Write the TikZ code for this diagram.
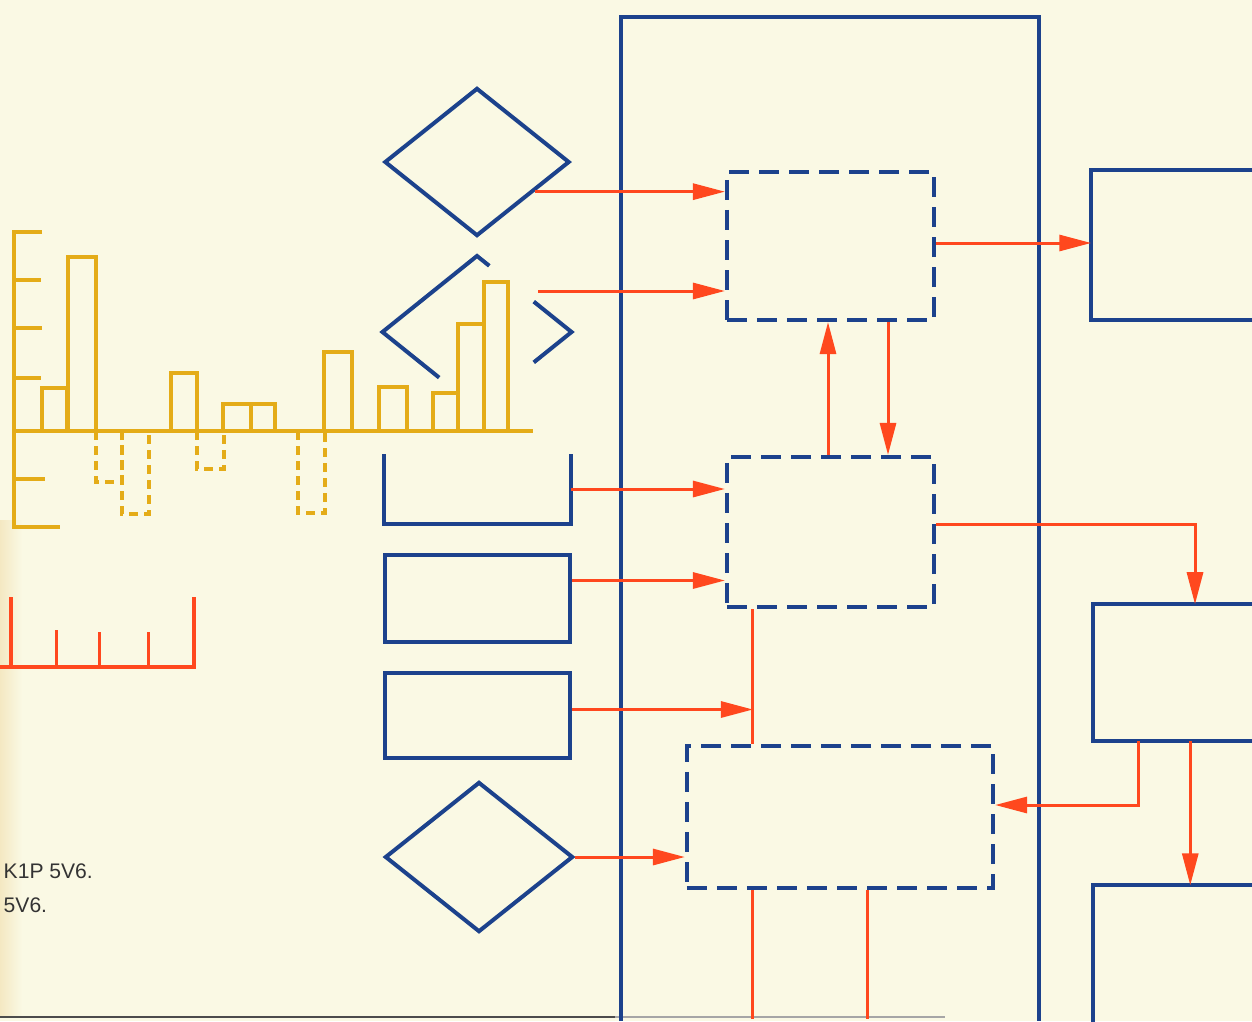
\documentclass[tikz,border=0pt]{standalone}
\usepackage{fontspec}
\setmainfont{Liberation Sans}
\usetikzlibrary{shapes.geometric, arrows.meta, calc}
\definecolor{paper}{RGB}{250,249,228}
\definecolor{fold}{RGB}{244,232,194}
\definecolor{navy}{RGB}{28,66,140}
\definecolor{signal}{RGB}{255,72,30}
\definecolor{chart}{RGB}{228,172,24}

\begin{document}
\begin{tikzpicture}[x=0.01cm, y=-0.01cm,
  blk/.style={rectangle, draw=navy, line width=0.04cm, inner sep=0pt},
  ghost/.style={rectangle, draw=none, inner sep=0pt},
  dia/.style={diamond, draw=navy, line width=0.04cm, inner sep=0pt, minimum width=1.85cm, minimum height=1.48cm},
  dbox/.style={rectangle, draw=navy, line width=0.04cm, dash pattern=on 0.2cm off 0.1cm, inner sep=0pt},
  rim/.style={navy, line width=0.04cm},
  flow/.style={-{Triangle[length=0.32cm, width=0.16cm]}, signal, line width=0.03cm},
  wire/.style={signal, line width=0.03cm},
  bar/.style={chart, line width=0.035cm},
  negbar/.style={chart, line width=0.035cm, dash pattern=on 0.09cm off 0.06cm},
  post/.style={anchor=base west, inner sep=0pt, text=black!80, font=\fontsize{6}{7}\selectfont}
]
  \fill[paper] (0,0) rectangle (1252,1021);
  \useasboundingbox (0,0) rectangle (1252,1021);
  \fill[left color=fold, right color=paper] (0,520) rectangle (22,1017);
  \draw[black!70, line width=0.02cm] (0,1017) -- (615,1017);
  \draw[black!35, line width=0.02cm] (615,1017) -- (945,1017);

  \draw[rim] (621,1021) |- (1039,17) -- (1039,1021);

  \node[dia] (dTop) at (477,162) {};
  \node[dia, draw=none] (dMid) at (477,332) {};
  \node[ghost, minimum width=1.85cm, minimum height=0.68cm] (uBox) at (477.5,489) {};
  \node[blk, minimum width=1.85cm, minimum height=0.87cm] (rUp) at (477.5,598.5) {};
  \node[blk, minimum width=1.85cm, minimum height=0.85cm] (rLow) at (477.5,715.5) {};
  \node[dia, minimum width=1.88cm, minimum height=1.50cm] (dBot) at (479,857) {};

  \node[dbox, minimum width=2.07cm, minimum height=1.48cm] (pA) at (830.5,246) {};
  \node[dbox, minimum width=2.07cm, minimum height=1.50cm] (pB) at (830.5,532) {};
  \node[dbox, minimum width=3.06cm, minimum height=1.42cm] (pC) at (840,817) {};

  \node[ghost, minimum width=1.60cm, minimum height=1.48cm] (oA) at (1172,245) {};
  \node[ghost, minimum width=1.58cm, minimum height=1.35cm] (oB) at (1173,672.5) {};
  \node[ghost, minimum width=1.58cm, minimum height=1.35cm] (oC) at (1173,953.5) {};

  \draw[rim] ($(dMid.west)!0.6!(dMid.south)$) -- (dMid.west) -- (dMid.north) -- ($(dMid.north)!0.13!(dMid.east)$);
  \draw[rim] ($(dMid.east)!0.4!(dMid.north)$) -- (dMid.east) -- ($(dMid.east)!0.4!(dMid.south)$);
  \draw[rim] (uBox.north west) -- (uBox.south west) -- (uBox.south east) -- (uBox.north east);
  \draw[rim] (oA.north east) -- (oA.north west) -- (oA.south west) -- (oA.south east);
  \draw[rim] (oB.north east) -- (oB.north west) -- (oB.south west) -- (oB.south east);
  \draw[rim] (oC.south west) -- (oC.north west) -- (oC.north east);

  \coordinate (a1) at ($(dTop.east)!0.39!(dTop.south)$);
  \coordinate (a2) at (538,291);
  \coordinate (a3) at ($(pA.east)+(0,-3)$);
  \coordinate (a4) at ($(rUp.east)+(0,-18)$);
  \coordinate (a5) at ($(rLow.east)+(0,-6)$);
  \coordinate (jn) at ($(pB.south west)+(28,0)$);

  \draw[flow] (a1) -- (a1 -| pA.west);
  \draw[flow] (a2) -- (a2 -| pA.west);
  \draw[flow] (a3) -- (a3 -| oA.west);
  \draw[flow] ($(pB.north)+(-2.5,0)$) -- ($(pA.south)+(-2.5,0)$);
  \draw[flow] ($(pA.south)+(57.5,0)$) -- ($(pB.north)+(57.5,0)$);
  \draw[flow] (uBox.east) -- (uBox.east -| pB.west);
  \draw[flow] (a4) -- (a4 -| pB.west);
  \draw[wire] (jn) -- (jn |- pC.north);
  \draw[flow] (a5) -- (a5 -| jn);
  \draw[flow] ($(pB.east)+(0,-8)$) -| ($(oB.north)+(22,0)$);
  \draw[flow] ($(oB.south west)+(45,0)$) |- ($(pC.east)+(0,-12)$);
  \draw[flow] ($(oB.south west)+(97,0)$) -- ($(oC.north west)+(97,0)$);
  \draw[flow] (dBot.east) -- (dBot.east -| pC.west);
  \draw[wire] ($(pC.south west)+(68,0)$) -- ++(0,129);
  \draw[wire] ($(pC.south west)+(183,0)$) -- ++(0,129);

  \draw[bar] (42,232) -| (14,527) -- (60,527);
  \foreach \ty/\tx in {280/41, 328/42, 378/41, 479/45}
    \draw[bar] (14,\ty) -- (\tx,\ty);
  \foreach \xa/\xb/\yt in {42/67/388, 68/96/257, 171/197/373, 223/251/404, 251/275/404, 324/352/352, 379/407/387, 433/458/393, 458/484/324, 484/508/282}
    \draw[bar] (\xa,431) |- (\xb,\yt) -- (\xb,431);
  \foreach \xa/\xb/\yb in {96/122/482, 122/149/514, 197/224/469, 298/325/513}
    \draw[negbar] (\xa,431) |- (\xb,\yb) -- (\xb,431);
  \draw[bar] (14,431) -- (533,431);

  \draw[signal, line width=0.04cm] (11,597) -- (11,667) (0,667) -- (194,667) -- (194,597);
  \foreach \tx/\ty in {56/630, 99/632, 148/632}
    \draw[signal, line width=0.03cm] (\tx,667) -- (\tx,\ty);

  \node[post] (postA) at (3,878) {K1P 5V6.};
  \node[post] (postB) at (3,912) {5V6.};
\end{tikzpicture}
\end{document}
